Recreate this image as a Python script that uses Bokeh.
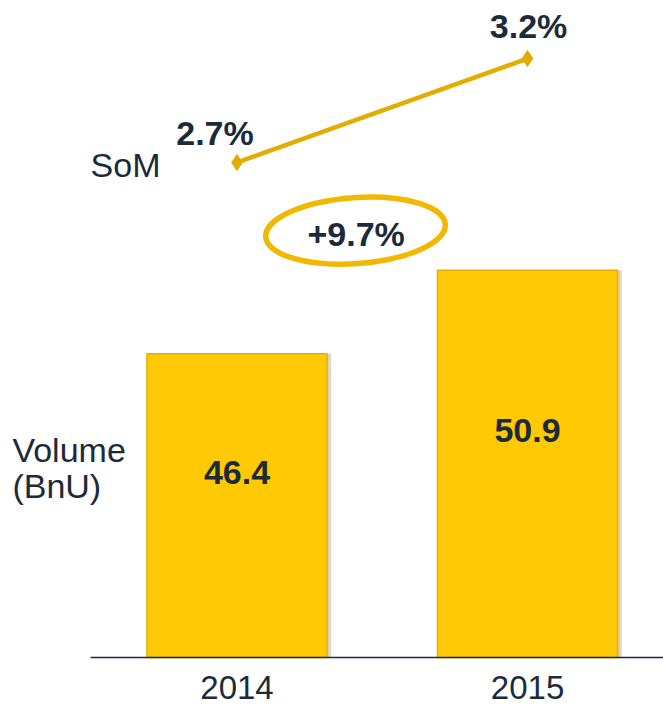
from bokeh.plotting import figure
from bokeh.models import Range1d, ColumnDataSource
from bokeh.transform import dodge
from bokeh.core.properties import value
from bokeh.embed import file_html
from bokeh.resources import INLINE

# ---- data ----
years = ["2014", "2015"]
xpos = [0, 1]
volume = [46.4, 50.9]
volume_labels = ["46.4", "50.9"]
som = [2.7, 3.2]
som_labels = ["2.7%", "3.2%"]
growth_label = "+9.7%"
BASE = 30.0

FONT = "Liberation Sans"
DARK = "#1C2B39"
GOLD = "#E3AC00"
YELLOW = "#FFCA05"

X_START, X_END = -0.814, 1.468
AXIS_LEFT = -0.504  # where the baseline begins

p = figure(width=663, height=707, output_backend="svg", toolbar_location=None,
           x_range=Range1d(X_START, X_END), y_range=Range1d(27.30, 65.46),
           y_axis_location=None, x_axis_location=None,
           min_border_left=0, min_border_right=0, min_border_top=0, min_border_bottom=0)
p.extra_y_ranges = {"som": Range1d(0.080, 3.479)}
p.outline_line_color = None
p.xgrid.visible = False
p.ygrid.visible = False
p.background_fill_color = "white"
p.border_fill_color = "white"

src = ColumnDataSource(dict(x=xpos, vol=volume, vlab=volume_labels, year=years,
                            base=[BASE] * len(xpos),
                            mid=[(BASE + v) / 2 for v in volume],
                            som=som, slab=som_labels))

# bar shadow
p.vbar(x=dodge("x", 0.014, range=p.x_range), top="vol", bottom=BASE, width=0.62,
       source=src, fill_color="#9a8a60", fill_alpha=0.35, line_color=None)
# bars
p.vbar(x="x", top="vol", bottom=BASE, width=0.62, source=src,
       fill_color=YELLOW, line_color="#E6AE00", line_width=1.5)
p.text(x="x", y="mid", text="vlab", source=src, y_offset=-33,
       text_align="center", text_baseline="middle",
       text_font=value(FONT), text_font_style="bold", text_font_size="34px",
       text_color=DARK)

# baseline and category labels
p.segment(x0=[AXIS_LEFT], x1=[X_END], y0=[BASE], y1=[BASE],
          line_color=DARK, line_width=1.5)
p.text(x="x", y="base", text="year", source=src, y_offset=30,
       text_align="center", text_baseline="middle",
       text_font=value(FONT), text_font_size="33px", text_color=DARK)

# SoM line
p.line(x="x", y="som", source=src, y_range_name="som", line_color=GOLD, line_width=4.5)
p.scatter(x="x", y="som", source=src, y_range_name="som", marker="diamond",
          size=16, fill_color=GOLD, line_color=GOLD)
p.text(x=[xpos[0]], y=[som[0]], text=[som_labels[0]], y_range_name="som",
       x_offset=-22, y_offset=-30, text_align="center", text_baseline="middle",
       text_font=value(FONT), text_font_style="bold", text_font_size="34px",
       text_color=DARK)
p.text(x=[xpos[1]], y=[som[1]], text=[som_labels[1]], y_range_name="som",
       x_offset=1, y_offset=-33, text_align="center", text_baseline="middle",
       text_font=value(FONT), text_font_style="bold", text_font_size="34px",
       text_color=DARK)

# growth annotation
p.ellipse(x=[0.408], y=[53.04], width=180, height=66, width_units="screen",
          height_units="screen", angle=0.07, fill_color=None,
          line_color="#F2B800", line_width=5.5)
p.text(x=[0.410], y=[52.83], text=[growth_label], text_align="center",
       text_baseline="middle", text_font=value(FONT), text_font_style="bold",
       text_font_size="34px", text_color=DARK)

# side labels
p.text(x=[AXIS_LEFT], y=[2.686], y_range_name="som", text=["SoM"],
       text_font=value(FONT), text_font_size="34px", text_color=DARK,
       text_baseline="middle", text_align="left")
p.text(x=[-0.773, -0.773], y=[41.22, 39.28], text=["Volume", "(BnU)"],
       text_font=value(FONT), text_font_size="34px", text_color=DARK,
       text_baseline="middle", text_align="left")

open("out.html", "w").write(file_html(p, INLINE))
